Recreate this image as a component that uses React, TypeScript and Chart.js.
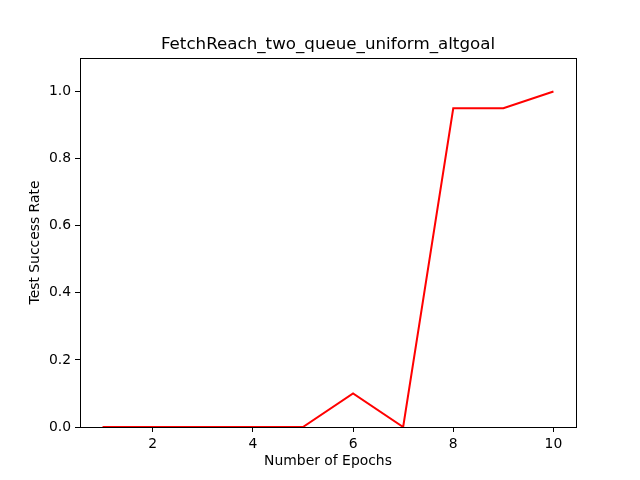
import React, { useEffect, useRef } from "react";
import { Chart, registerables } from "chart.js";

Chart.register(...registerables);

const epochs = [1, 2, 3, 4, 5, 6, 7, 8, 9, 10];
const successRate = [0, 0, 0, 0, 0, 0.1, 0, 0.95, 0.95, 1.0];
const xTicks = [2, 4, 6, 8, 10];
const yTicks = [0, 0.2, 0.4, 0.6, 0.8, 1.0];
const chartTitle = "FetchReach_two_queue_uniform_altgoal";
const xLabel = "Number of Epochs";
const yLabel = "Test Success Rate";

const FONT = "'DejaVu Sans', sans-serif";

const framePlugin = {
  id: "frame",
  afterDraw(chart: any) {
    const { ctx, chartArea } = chart;
    ctx.save();
    ctx.strokeStyle = "#000";
    ctx.lineWidth = 1;
    ctx.strokeRect(
      Math.round(chartArea.left) + 0.5,
      Math.round(chartArea.top) + 0.5,
      Math.round(chartArea.right - chartArea.left),
      Math.round(chartArea.bottom - chartArea.top)
    );
    ctx.fillStyle = "#000";
    ctx.font = `16.7px ${FONT}`;
    ctx.textAlign = "center";
    ctx.textBaseline = "alphabetic";
    ctx.fillText(chartTitle, (chartArea.left + chartArea.right) / 2, 49);
    ctx.restore();
  },
};

export default function App() {
  const ref = useRef<HTMLCanvasElement>(null);
  useEffect(() => {
    document.body.style.margin = "0";
    const chart = new Chart(ref.current!, {
      type: "line",
      data: {
        datasets: [
          {
            data: epochs.map((x, i) => ({ x, y: successRate[i] })),
            borderColor: "#ff0000",
            borderWidth: 2,
            pointRadius: 0,
            tension: 0,
            fill: false,
          },
        ],
      },
      options: {
        animation: false,
        responsive: true,
        maintainAspectRatio: false,
        layout: { padding: { left: 0, right: 64, top: 58, bottom: 0 } },
        plugins: { legend: { display: false }, tooltip: { enabled: false }, title: { display: false } },
        scales: {
          x: {
            type: "linear",
            min: 0.55,
            max: 10.45,
            afterBuildTicks: (s: any) => {
              s.ticks = xTicks.map((v) => ({ value: v }));
            },
            afterFit: (s: any) => {
              s.height = 53;
            },
            grid: { drawOnChartArea: false, tickLength: 5, color: "#000", tickWidth: 1 },
            border: { display: false },
            ticks: {
              color: "#000",
              font: { family: FONT, size: 13.9 },
              padding: 4,
              maxRotation: 0,
              callback: (v: any) => String(v),
            },
            title: {
              display: true,
              text: xLabel,
              color: "#000",
              font: { family: FONT, size: 13.9 },
              padding: { top: 0, bottom: 10 },
            },
          },
          y: {
            type: "linear",
            min: 0,
            max: 1.1,
            afterBuildTicks: (s: any) => {
              s.ticks = yTicks.map((v) => ({ value: v }));
            },
            afterFit: (s: any) => {
              s.width = 80;
            },
            grid: { drawOnChartArea: false, tickLength: 5, color: "#000", tickWidth: 1 },
            border: { display: false },
            ticks: {
              color: "#000",
              font: { family: FONT, size: 13.9 },
              padding: 4,
              callback: (v: any) => Number(v).toFixed(1),
            },
            title: {
              display: true,
              text: yLabel,
              color: "#000",
              font: { family: FONT, size: 13.9 },
              padding: { top: 27, bottom: 0 },
            },
          },
        },
      },
      plugins: [framePlugin],
    });
    return () => chart.destroy();
  }, []);
  return (
    <div style={{ position: "absolute", left: 0, top: 0, width: 640, height: 480, background: "#fff" }}>
      <canvas ref={ref} />
    </div>
  );
}
